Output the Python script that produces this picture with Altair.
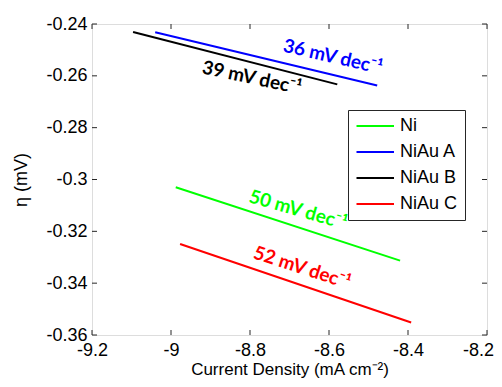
import altair as alt
import pandas as pd

# ---- data ----
series = ["Ni", "NiAu A", "NiAu B", "NiAu C"]
colors = ["#00ff00", "#0000ff", "#000000", "#ff0000"]
x_start = [-8.988, -9.040, -9.096, -8.977]
x_end = [-8.420, -8.478, -8.579, -8.392]
y_start = [-0.3030, -0.2432, -0.2431, -0.3249]
y_end = [-0.3313, -0.2637, -0.2633, -0.3552]

ann_text = ["50 mV dec⁻¹", "36 mV dec⁻¹", "39 mV dec⁻¹", "52 mV dec⁻¹"]
ann_x = [-8.678, -8.590, -8.795, -8.668]
ann_y = [-0.3118, -0.2527, -0.2608, -0.3341]
ann_angle = [16, 13, 12, 18]

x_ticks = [-9.2, -9.0, -8.8, -8.6, -8.4, -8.2]
y_ticks = [-0.36, -0.34, -0.32, -0.30, -0.28, -0.26, -0.24]

W, H = 395, 311
FRAME = "#262626"
FONT = "Liberation Sans"

rows = []
for s, xs, xe, ys, ye in zip(series, x_start, x_end, y_start, y_end):
    rows.append({"series": s, "x": xs, "y": ys, "o": 0})
    rows.append({"series": s, "x": xe, "y": ye, "o": 1})
df = pd.DataFrame(rows)

xscale = alt.Scale(domain=[-9.2, -8.2], nice=False, zero=False)
yscale = alt.Scale(domain=[-0.36, -0.24], nice=False, zero=False)
label_expr = "replace(format(datum.value, '~g'), '\u2212', '-')"

axis_style = dict(labelExpr=label_expr, ticks=False, domain=False, grid=False,
                  labelFont=FONT, labelFontSize=18, labelColor="black",
                  titleFont=FONT, titleColor="black",
                  titleFontWeight="normal", labelOverlap=False, labelBound=False,
                  labelFlush=False)
x_axis = alt.Axis(values=x_ticks, labelPadding=6, titlePadding=2, titleFontSize=17,
                  labelOffset={"condition": {"test": "datum.value > -8.25", "value": -9},
                               "value": 0},
                  title="Current Density (mA cm⁻²)", **axis_style)
y_axis = alt.Axis(values=y_ticks, labelPadding=5, titlePadding=15, titleFontSize=18,
                  title="η (mV)", **axis_style)


def X(field):
    return alt.X(field, scale=xscale, axis=x_axis)


def Y(field):
    return alt.Y(field, scale=yscale, axis=y_axis)


lines = alt.Chart(df).mark_line(strokeWidth=2).encode(
    x=X("x:Q"),
    y=Y("y:Q"),
    color=alt.Color("series:N", scale=alt.Scale(domain=series, range=colors), title=None,
                    legend=alt.Legend(orient="none", legendX=256, legendY=86,
                                      strokeColor=FRAME, fillColor="white", padding=7,
                                      symbolType="M-1,0L4,0", symbolSize=225,
                                      symbolStrokeWidth=2, labelOffset=27,
                                      labelFontSize=18, labelFont=FONT, rowPadding=8,
                                      labelColor="black")),
    order="o:Q",
)

layers = [lines]

for t, ax, ay, ang, c in zip(ann_text, ann_x, ann_y, ann_angle, colors):
    layers.append(
        alt.Chart(pd.DataFrame({"x": [ax], "y": [ay], "t": [t], "a": [ang]}))
        .mark_text(color=c, font="Lato", fontWeight="bold", fontSize=19,
                   align="center", baseline="middle")
        .encode(x=X("x:Q"), y=Y("y:Q"), text="t:N",
                angle=alt.Angle("a:Q", scale=None))
    )

tx = pd.DataFrame({"x": x_ticks})
ty = pd.DataFrame({"y": y_ticks})
layers.append(alt.Chart(tx).mark_rule(color=FRAME, strokeWidth=1).encode(
    x=X("x:Q"), y=alt.value(H), y2=alt.value(H - 5)))
layers.append(alt.Chart(tx).mark_rule(color=FRAME, strokeWidth=1).encode(
    x=X("x:Q"), y=alt.value(0), y2=alt.value(5)))
layers.append(alt.Chart(ty).mark_rule(color=FRAME, strokeWidth=1).encode(
    y=Y("y:Q"), x=alt.value(0), x2=alt.value(5)))
layers.append(alt.Chart(ty).mark_rule(color=FRAME, strokeWidth=1).encode(
    y=Y("y:Q"), x=alt.value(W), x2=alt.value(W - 5)))

chart = alt.layer(*layers).properties(
    width=W, height=H,
    padding={"left": 84, "top": 16, "right": 7, "bottom": 44},
    autosize=alt.AutoSizeParams(type="none"),
).configure_view(
    stroke=FRAME, strokeWidth=1
).configure(background="white")

chart.save("out.html", embed_options={"renderer": "svg", "actions": False})
